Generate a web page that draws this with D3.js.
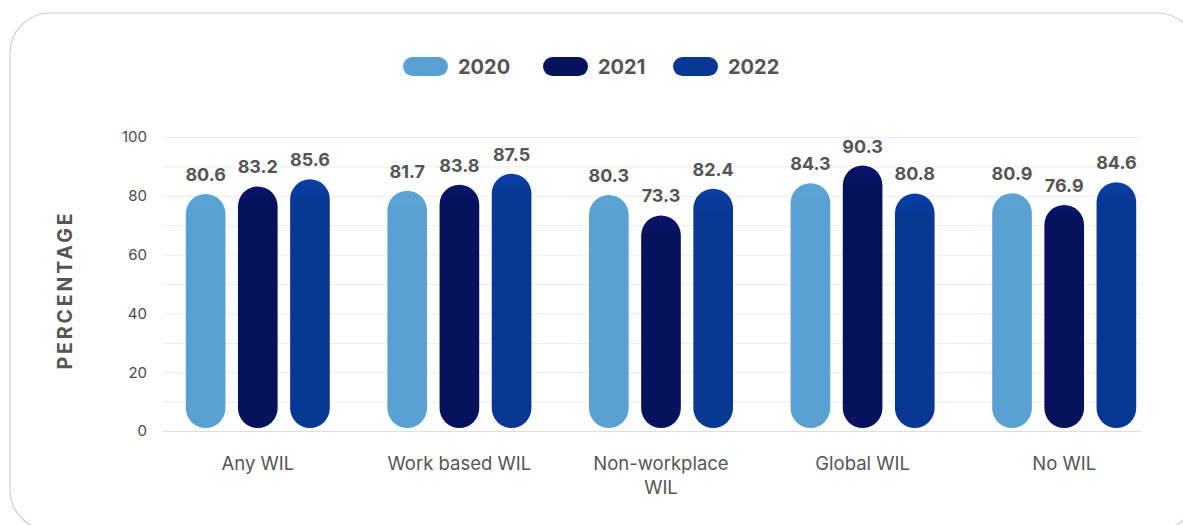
<!DOCTYPE html>
<html>
<head>
<meta charset="utf-8">
<script src="https://cdn.jsdelivr.net/npm/d3@7"></script>
<style>
  html, body { margin: 0; padding: 0; background: #fff; }
  svg { display: block; }
  text { font-family: "Inter", "Open Sans", sans-serif; }
</style>
</head>
<body>
<svg id="chart" width="1183" height="525"></svg>
<script>
// chart data
var categories = ["Any WIL", "Work based WIL", "Non-workplace WIL", "Global WIL", "No WIL"];
var years = ["2020", "2021", "2022"];
var values2020 = [80.6, 81.7, 80.3, 84.3, 80.9];
var values2021 = [83.2, 83.8, 73.3, 90.3, 76.9];
var values2022 = [85.6, 87.5, 82.4, 80.8, 84.6];
var yTicks = [0, 20, 40, 60, 80, 100];
var colors = ["#59a1d2", "#07125c", "#093894"];

var series = [values2020, values2021, values2022];

var svg = d3.select("#chart");

// card outline
svg.append("rect")
    .attr("x", 10).attr("y", 13)
    .attr("width", 1187).attr("height", 517)
    .attr("rx", 40).attr("ry", 40)
    .attr("fill", "#fff")
    .attr("stroke", "#cfcfcf")
    .attr("stroke-width", 1.2);

var x = d3.scaleBand()
    .domain(categories)
    .range([157, 1165])
    .paddingInner(0).paddingOuter(0);

var xInner = d3.scaleBand()
    .domain(years)
    .range([0, 144])
    .paddingInner(0.24).paddingOuter(0);

var y = d3.scaleLinear()
    .domain([0, 100])
    .range([431, 137]);

// gridlines every 10
var grid = svg.append("g");
grid.selectAll("line")
    .data(d3.range(0, 101, 10))
    .enter().append("line")
        .attr("x1", 163).attr("x2", 1141)
        .attr("y1", function(d) { return y(d) + 0.5; })
        .attr("y2", function(d) { return y(d) + 0.5; })
        .attr("stroke", function(d) { return d === 0 ? "#dedede" : "#ececec"; })
        .attr("stroke-width", 1);

// y axis
var yAxis = d3.axisLeft(y).tickValues(yTicks).tickSize(0).tickPadding(0);
var yg = svg.append("g")
    .attr("transform", "translate(147,0)")
    .call(yAxis);
yg.select(".domain").remove();
yg.selectAll("text")
    .attr("font-size", 15)
    .attr("fill", "#4a4a4a")
    .attr("font-family", "Inter, sans-serif");

svg.append("text")
    .attr("transform", "translate(72,290) rotate(-90)")
    .attr("text-anchor", "middle")
    .attr("font-size", 19.5)
    .attr("font-weight", 700)
    .attr("letter-spacing", 2.9)
    .attr("fill", "#555")
    .text("PERCENTAGE");

// gradient for bar tops
var defs = svg.append("defs");
colors.forEach(function(c, i) {
    var g = defs.append("linearGradient")
        .attr("id", "grad" + i)
        .attr("x1", 0).attr("y1", 0).attr("x2", 0).attr("y2", 1);
    g.append("stop").attr("offset", "0%").attr("stop-color", d3.color(c).brighter(i === 0 ? 0.05 : 0.35));
    g.append("stop").attr("offset", "9%").attr("stop-color", c);
    g.append("stop").attr("offset", "100%").attr("stop-color", c);
});

// bars
var barData = [];
categories.forEach(function(cat, ci) {
    years.forEach(function(yr, si) {
        barData.push({cat: cat, year: yr, si: si, value: series[si][ci]});
    });
});

var bw = xInner.bandwidth();
var groupOffset = (x.bandwidth() - 144) / 2;

var bars = svg.append("g");
bars.selectAll("rect")
    .data(barData)
    .enter().append("rect")
        .attr("x", function(d) { return x(d.cat) + groupOffset + xInner(d.year); })
        .attr("y", function(d) { return y(d.value); })
        .attr("width", bw)
        .attr("height", function(d) { return y(0) - y(d.value) - 3; })
        .attr("rx", bw / 2).attr("ry", bw / 2)
        .attr("fill", function(d) { return "url(#grad" + d.si + ")"; });

bars.selectAll("text")
    .data(barData)
    .enter().append("text")
        .attr("x", function(d) { return x(d.cat) + groupOffset + xInner(d.year) + bw / 2; })
        .attr("y", function(d) { return y(d.value) - 13; })
        .attr("text-anchor", "middle")
        .attr("font-size", 18)
        .attr("font-weight", 700)
        .attr("fill", "#555")
        .text(function(d) { return d.value.toFixed(1); });

// x labels (wrapped)
var xLines = {
    "Non-workplace WIL": ["Non-workplace", "WIL"]
};
var xl = svg.append("g");
categories.forEach(function(cat) {
    var lines = xLines[cat] || [cat];
    var t = xl.append("text")
        .attr("x", x(cat) + x.bandwidth() / 2)
        .attr("y", 470)
        .attr("text-anchor", "middle")
        .attr("font-size", 18.5)
        .attr("fill", "#555");
    lines.forEach(function(l, i) {
        t.append("tspan")
            .attr("x", x(cat) + x.bandwidth() / 2)
            .attr("dy", i === 0 ? 0 : 24)
            .text(l);
    });
});

// legend
var legendX = [403, 543, 673];
var legend = svg.append("g");
years.forEach(function(yr, i) {
    legend.append("rect")
        .attr("x", legendX[i]).attr("y", 57)
        .attr("width", 45).attr("height", 19)
        .attr("rx", 9.5).attr("ry", 9.5)
        .attr("fill", colors[i]);
    legend.append("text")
        .attr("x", legendX[i] + 55).attr("y", 74)
        .attr("font-size", 20)
        .attr("font-weight", 700)
        .attr("fill", "#555")
        .text(yr);
});
</script>
</body>
</html>
